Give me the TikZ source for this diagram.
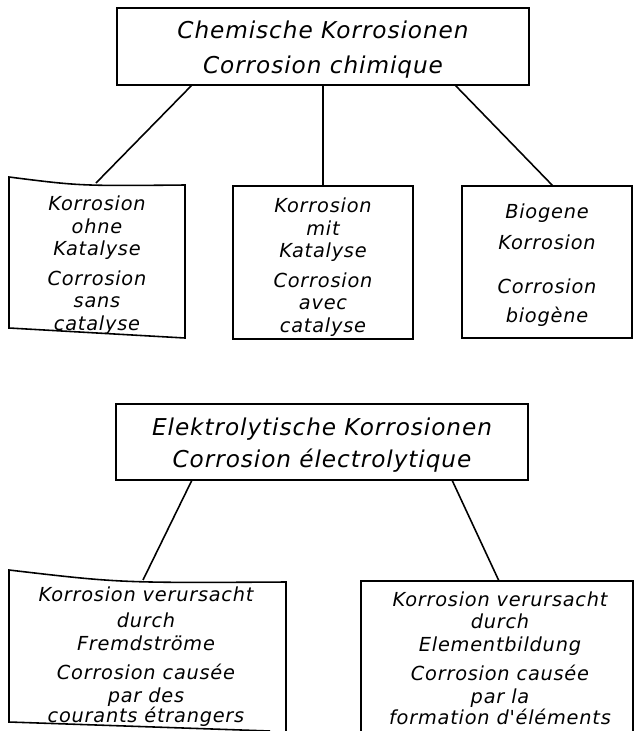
\documentclass[tikz,border=0pt]{standalone}
\usepackage{fontspec}
\newfontfamily\schrift[LetterSpace=4]{DejaVu Sans}
\begin{document}
\begin{tikzpicture}[x=0.02cm,y=-0.02cm,
                kasten/.style={draw,line width=0.9pt,inner sep=0pt},
                rahmen/.style={line width=0.9pt,line join=miter},
                titel/.style={font=\schrift\itshape\fontsize{13.2}{19.5}\selectfont,align=center},
                eintrag/.style={font=\schrift\itshape\fontsize{11}{12.8}\selectfont,align=center}]
                \useasboundingbox (0,0) rectangle (639,731);

                \node[kasten,titel,minimum width=8.24cm,minimum height=1.54cm] (chem) at (323,46.5) {};
                \node[titel] (chemtxt) at (323,49.5) {Chemische Korrosionen\\Corrosion chimique};

                \coordinate (ohne-nw) at (9,177);
                \coordinate (ohne-ne) at (185,185);
                \coordinate (ohne-se) at (185,338);
                \coordinate (ohne-sw) at (9,328);
                \draw[rahmen] (ohne-nw) .. controls (80,186) .. (ohne-ne)--(ohne-se)--(ohne-sw)--cycle;
                \node[eintrag] (ohne) at (97,265) {Korrosion\\ohne\\Katalyse\\[4pt]Corrosion\\sans\\catalyse};

                \node[kasten,minimum width=3.6cm,minimum height=3.06cm] (mit) at (323,262.5) {};
                \node[eintrag] (mittxt) at (323,267) {Korrosion\\mit\\Katalyse\\[4pt]Corrosion\\avec\\catalyse};
                \node[kasten,minimum width=3.4cm,minimum height=3.04cm] (bio) at (547,262) {};
                \node[eintrag] (biotxt) at (547,265) {Biogene\\[5pt]Korrosion\\[12pt]Corrosion\\[4pt]biogène};

                \coordinate (chem-l) at (192,85);
                \coordinate (chem-r) at (455,85);
                \coordinate (ohne-n) at (96,183);
                \coordinate (bio-n) at (553,186);
                \draw[rahmen] (chem-l)--(ohne-n);
                \draw[rahmen] (chem.south)--(mit.north);
                \draw[rahmen] (chem-r)--(bio-n);

                \node[kasten,minimum width=8.24cm,minimum height=1.52cm] (elek) at (322,442) {};
                \node[titel] (elektxt) at (322,445) {Elektrolytische Korrosionen\\[-1pt]Corrosion électrolytique};

                \coordinate (fremd-nw) at (9,570);
                \coordinate (fremd-ne) at (286,582);
                \coordinate (fremd-s) at (286,731);
                \coordinate (fremd-se) at (270,731);
                \coordinate (fremd-sw) at (9,722);
                \draw[rahmen] (fremd-se)--(fremd-sw)--(fremd-nw) .. controls (120,583) .. (fremd-ne)--(fremd-s);
                \node[eintrag] (fremd) at (146,657) {Korrosion verursacht\\[2pt]durch\\Fremdströme\\[4pt]Corrosion causée\\par des\\[-1pt]courants étrangers};

                \coordinate (elem-sw) at (361,731);
                \coordinate (elem-nw) at (361,581);
                \coordinate (elem-ne) at (633,581);
                \coordinate (elem-se) at (633,731);
                \draw[rahmen] (elem-sw)--(elem-nw)--(elem-ne)--(elem-se);
                \node[eintrag] (elem) at (500,658) {Korrosion verursacht\\durch\\Elementbildung\\[4pt]Corrosion causée\\par la\\[-1pt]formation d'éléments};

                \coordinate (elek-l) at (192,480);
                \coordinate (elek-r) at (452,480);
                \coordinate (fremd-n) at (143,580);
                \coordinate (elem-n) at (499,581);
                \draw[rahmen] (elek-l)--(fremd-n);
                \draw[rahmen] (elek-r)--(elem-n);
            \end{tikzpicture}
\end{document}
